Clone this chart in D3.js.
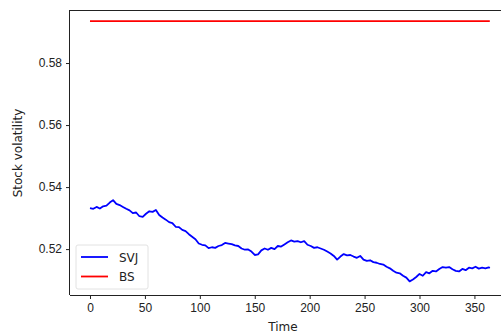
<!DOCTYPE html>
<html>
<head>
<meta charset="utf-8">
<script src="https://cdn.jsdelivr.net/npm/d3@7"></script>
<style>
  body { margin: 0; background: #fff; }
  svg { display: block; font-family: "DejaVu Sans", sans-serif; }
  .tick text { font-size: 12px; fill: #222; }
  .tick line { stroke: #222; }
  .domain { stroke: #222; }
</style>
</head>
<body>
<svg id="chart" width="501" height="334"></svg>
<script>
// Simulated stock volatility paths
const times = [0,3,6,9,12,15,18,21,24,27,30,33,36,39,42,45,48,51,54,57,60,63,66,69,72,75,78,81,84,87,90,93,96,99,102,105,108,111,114,117,120,123,126,129,132,135,138,141,144,147,150,153,156,159,162,165,168,171,174,177,180,183,186,189,192,195,198,201,204,207,210,213,216,219,222,225,228,231,234,237,240,243,246,249,252,255,258,261,264,267,270,273,276,279,282,285,288,291,294,297,300,303,306,309,312,315,318,321,324,327,330,333,336,339,342,345,348,351,354,357,360,363,364];
const svjValues = [0.5332,0.5330,0.5336,0.5331,0.5338,0.5340,0.5350,0.5358,0.5346,0.5342,0.5336,0.5330,0.5325,0.5316,0.5318,0.5306,0.5304,0.5314,0.5322,0.5320,0.5326,0.5310,0.5302,0.5295,0.5287,0.5284,0.5272,0.5271,0.5262,0.5258,0.5248,0.5240,0.5232,0.5218,0.5214,0.5212,0.5203,0.5206,0.5204,0.5210,0.5213,0.5220,0.5218,0.5216,0.5212,0.5210,0.5202,0.5198,0.5199,0.5192,0.5181,0.5183,0.5196,0.5202,0.5198,0.5204,0.5200,0.5210,0.5208,0.5215,0.5222,0.5228,0.5224,0.5226,0.5222,0.5226,0.5214,0.5210,0.5204,0.5206,0.5202,0.5198,0.5192,0.5186,0.5178,0.5166,0.5176,0.5184,0.5180,0.5181,0.5176,0.5172,0.5178,0.5166,0.5162,0.5164,0.5158,0.5156,0.5152,0.5150,0.5143,0.5138,0.5130,0.5124,0.5122,0.5114,0.5108,0.5096,0.5102,0.5110,0.5120,0.5114,0.5126,0.5122,0.5130,0.5128,0.5136,0.5142,0.5140,0.5142,0.5135,0.5130,0.5128,0.5136,0.5132,0.5140,0.5138,0.5143,0.5137,0.5140,0.5138,0.5141,0.5139];
const bsValue = 0.5935;
const bsTimes = [0, 364];
const xTicks = [0, 50, 100, 150, 200, 250, 300, 350];
const yTicks = [0.52, 0.54, 0.56, 0.58];
const seriesNames = ["SVJ", "BS"];
const seriesColors = ["#0000ff", "#ff0000"];

const svg = d3.select("#chart");
const plot = { left: 70, top: 10, right: 512, bottom: 295 };

const x = d3.scaleLinear().domain([-18.2, 384.2]).range([plot.left, plot.right]);
const y = d3.scaleLinear().domain([0.5052, 0.5971]).range([plot.bottom, plot.top]);

// Axes
svg.append("g")
  .attr("transform", `translate(0,${plot.bottom})`)
  .call(d3.axisBottom(x).tickValues(xTicks).tickSize(4).tickPadding(4).tickFormat(d3.format("d")))
  .call(g => g.select(".domain").attr("d", `M${plot.left},0.5H${plot.right}`));

svg.append("g")
  .attr("transform", `translate(${plot.left},0)`)
  .call(d3.axisLeft(y).tickValues(yTicks).tickSize(4).tickPadding(4).tickFormat(d3.format(".2f")))
  .call(g => g.select(".domain").attr("d", `M-0.5,${plot.top}V${plot.bottom}`));

// Top spine
svg.append("line")
  .attr("x1", plot.left).attr("x2", plot.right)
  .attr("y1", plot.top + 0.5).attr("y2", plot.top + 0.5)
  .attr("stroke", "#222");

// Series lines
const line = d3.line().x(d => x(d[0])).y(d => y(d[1]));

svg.append("path")
  .datum(times.map((t, i) => [t, svjValues[i]]))
  .attr("d", line)
  .attr("fill", "none")
  .attr("stroke", seriesColors[0])
  .attr("stroke-width", 1.8)
  .attr("stroke-linejoin", "round");

svg.append("path")
  .datum(bsTimes.map(t => [t, bsValue]))
  .attr("d", line)
  .attr("fill", "none")
  .attr("stroke", seriesColors[1])
  .attr("stroke-width", 1.8);

// Axis labels
svg.append("text")
  .attr("x", 283).attr("y", 331)
  .attr("text-anchor", "middle")
  .attr("font-size", 12).attr("fill", "#222")
  .text("Time");

svg.append("text")
  .attr("transform", "translate(22,153) rotate(-90)")
  .attr("text-anchor", "middle")
  .attr("font-size", 12).attr("fill", "#222")
  .text("Stock volatility");

// Legend
const legend = svg.append("g").attr("transform", "translate(76,245)");
legend.append("rect")
  .attr("width", 72).attr("height", 44).attr("rx", 2)
  .attr("fill", "#fff").attr("fill-opacity", 0.8)
  .attr("stroke", "#e2e2e2");
seriesNames.forEach((name, i) => {
  const yy = 12 + i * 19.5;
  legend.append("line")
    .attr("x1", 5).attr("x2", 32).attr("y1", yy).attr("y2", yy)
    .attr("stroke", seriesColors[i]).attr("stroke-width", 1.8);
  legend.append("text")
    .attr("x", 43).attr("y", yy + 4.5)
    .attr("font-size", 12).attr("fill", "#222")
    .text(name);
});
</script>
</body>
</html>
